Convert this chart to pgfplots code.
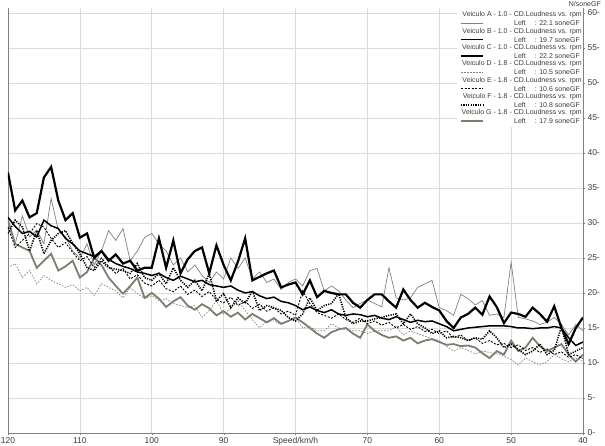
\documentclass[border=0pt]{standalone}
\usepackage{fontspec}
\setmainfont{Liberation Sans}
\usepackage{pgfplots}
\usepackage{pgfplotstable}
\pgfplotsset{compat=1.18}
\pgfplotstableread{
x A B C D E F G
120 30.0 30.8 37.2 23.6 29.4 28.5 30.4
119 27.0 29.5 31.8 24.2 26.5 30.4 27.0
118 31.0 28.5 33.2 22.2 27.5 29.4 26.5
117 28.0 28.8 30.8 23.2 28.5 26.0 26.0
116 29.0 28.0 31.4 21.3 29.9 28.9 23.6
115 27.0 30.4 36.5 22.5 29.4 25.6 24.6
114 33.5 29.6 38.0 21.8 27.8 27.5 25.6
113 29.0 29.2 33.2 21.3 26.5 28.5 23.2
112 28.0 27.8 30.4 20.8 27.2 28.9 23.8
111 26.0 27.0 31.4 21.2 25.8 27.1 24.6
110 25.0 26.0 27.9 20.3 24.6 25.6 22.2
109 27.0 25.6 28.5 20.8 25.2 23.6 23.0
108 24.0 25.2 25.0 19.6 23.6 23.2 25.0
107 26.0 26.0 26.0 21.3 25.0 24.6 24.0
106 28.9 24.8 24.6 20.8 23.8 23.6 22.2
105 27.5 24.2 25.5 20.3 22.8 23.4 21.0
104 29.2 23.8 24.2 19.3 23.5 23.2 19.9
103 24.6 23.5 24.6 20.8 22.0 22.8 21.0
102 26.0 23.0 23.2 19.9 22.6 24.2 22.2
101 27.9 22.8 23.6 19.2 21.4 22.2 19.3
100 28.5 22.5 23.6 19.6 21.0 21.8 20.0
99 27.0 22.8 27.8 18.9 21.8 22.8 19.2
98 26.0 22.2 23.6 19.2 20.6 21.3 18.0
97 24.0 21.8 27.5 18.5 20.2 23.6 18.8
96 25.0 22.4 22.8 18.2 21.0 21.8 19.4
95 23.0 22.0 24.8 17.9 19.8 20.8 18.2
94 24.0 21.6 26.0 18.2 20.4 21.8 17.6
93 22.5 21.8 26.5 16.5 19.5 20.3 18.4
92 21.5 21.2 22.8 17.5 20.2 22.8 17.8
91 23.0 21.0 26.8 18.9 19.0 18.9 16.8
90 22.0 20.8 24.0 17.0 18.6 19.9 17.4
89 25.0 21.0 21.8 17.8 19.4 17.9 16.6
88 23.5 20.4 24.5 18.9 18.2 19.3 17.2
87 25.0 20.0 27.8 17.5 18.8 18.5 16.2
86 22.0 20.2 21.8 16.2 17.8 20.3 17.0
85 23.0 19.6 22.3 15.0 18.4 17.5 16.4
84 21.5 19.2 22.8 16.0 17.4 18.2 15.8
83 22.0 19.4 23.2 16.0 17.9 17.9 16.4
82 20.5 18.8 20.8 15.5 17.0 17.5 15.6
81 21.5 18.6 21.2 16.0 17.4 16.5 16.0
80 22.0 18.2 21.5 16.5 16.8 16.0 16.5
79 21.0 17.6 19.8 15.0 20.3 17.0 15.8
78 23.2 18.0 21.8 15.2 18.5 19.3 15.0
77 23.5 17.5 19.4 14.6 17.2 17.5 14.2
76 20.3 17.2 20.3 14.6 16.8 18.2 13.6
75 21.0 17.6 20.0 15.6 16.4 18.5 14.4
74 20.3 17.0 19.8 15.0 17.0 19.9 14.8
73 19.0 16.8 19.8 14.8 16.2 16.5 15.0
72 17.9 17.0 18.6 14.6 15.8 15.6 14.2
71 18.5 16.9 17.9 14.6 16.4 16.0 13.6
70 19.0 16.6 19.0 14.2 15.6 16.0 15.5
69 18.5 16.8 19.8 14.6 16.0 16.3 14.6
68 18.0 16.4 19.8 14.6 15.4 16.5 14.0
67 23.6 16.2 18.8 14.6 15.8 16.8 13.6
66 19.3 16.6 17.9 15.2 15.0 17.0 13.8
65 19.0 16.2 20.5 14.0 15.5 15.6 13.2
64 19.3 15.8 19.0 14.6 14.8 17.0 13.6
63 20.8 16.1 17.9 14.2 15.2 15.6 12.8
62 21.3 15.9 18.6 13.8 14.5 15.0 13.2
61 21.8 16.0 18.0 13.5 14.8 14.2 13.4
60 17.9 15.6 17.5 13.2 14.2 14.6 13.0
59 17.5 15.2 16.0 12.4 14.6 13.6 12.6
58 16.8 14.6 15.0 11.7 13.6 13.8 12.7
57 19.8 14.8 16.5 12.2 14.0 13.6 12.4
56 19.2 15.0 17.0 11.8 13.2 13.2 12.5
55 18.3 15.1 17.9 11.3 13.6 13.6 12.2
54 18.9 15.2 16.9 11.7 12.8 13.4 11.4
53 16.8 15.3 19.5 11.5 13.2 14.6 10.7
52 17.0 15.3 18.0 11.3 12.6 13.6 11.7
51 16.5 15.3 15.7 11.0 12.8 12.2 11.2
50 24.4 15.2 17.2 10.5 12.2 12.7 13.2
49 16.5 15.0 17.0 9.7 12.6 11.9 11.7
48 16.3 15.0 16.6 10.7 11.8 11.2 12.2
47 16.0 14.9 17.9 10.2 12.2 11.7 13.6
46 15.5 15.0 17.0 9.7 11.5 12.7 12.4
45 15.8 15.0 15.9 10.2 12.0 11.2 11.7
44 16.5 15.2 18.1 11.2 11.2 11.8 12.2
43 15.5 15.0 15.0 10.6 11.6 15.2 12.7
42 14.0 13.6 12.7 10.2 10.8 11.2 11.2
41 15.5 12.5 15.0 10.7 11.2 11.7 10.2
40 14.6 13.0 16.5 10.2 10.6 12.2 11.2
}\data
\definecolor{gline}{RGB}{128,128,128}
\definecolor{gthick}{RGB}{125,125,112}
\definecolor{txt}{RGB}{60,60,60}
\tikzset{
  sA/.style={gline, line width=0.7pt},
  sB/.style={black, line width=1.5pt},
  sC/.style={black, line width=2.2pt},
  sD/.style={gline, line width=0.7pt, dash pattern=on 1.5pt off 1.5pt},
  sE/.style={black, line width=0.9pt, dash pattern=on 2pt off 1.5pt},
  sF/.style={black, line width=1.6pt, dash pattern=on 1.2pt off 1.2pt},
  sG/.style={gthick, line width=1.8pt},
}
\begin{document}
\begin{tikzpicture}[x=1pt,y=1pt]
\useasboundingbox (-8,-12) rectangle (597,433);
\begin{axis}[
  at={(0,0)}, anchor=south west,
  width=575pt, height=425pt, scale only axis,
  xmin=40, xmax=120, x dir=reverse,
  ymin=0, ymax=60.7,
  xtick={40,50,...,120},
  xticklabels={40,50,60,70,Speed/km/h,90,100,110,120},
  ytick={0,5,...,60},
  yticklabel={\pgfmathprintnumber{\tick}-},
  axis x line*=bottom, axis y line*=right,
  axis line style={gray, -},
  grid=major, grid style={gray!28, line width=0.6pt},
  tick style={gray}, tick align=outside, major tick length=2pt,
  tick label style={font=\fontsize{8.5}{9}\selectfont, text=txt},
  /pgf/number format/assume math mode=true,
  xticklabel style={yshift=1pt},
  yticklabel style={xshift=-1pt},
]
\draw[gray] (rel axis cs:0,0) -- (rel axis cs:0,1);
\addplot[sG] table[x=x,y=G]{\data};
\addplot[sD] table[x=x,y=D]{\data};
\addplot[sA] table[x=x,y=A]{\data};
\addplot[sE] table[x=x,y=E]{\data};
\addplot[sF] table[x=x,y=F]{\data};
\addplot[sB] table[x=x,y=B]{\data};
\addplot[sC] table[x=x,y=C]{\data};
\end{axis}
% legend
\fill[white] (449,306) rectangle (574.5,424.5);
\tikzset{lt/.style={anchor=east, inner sep=0pt, font=\fontsize{7}{8}\selectfont, text=txt}}
\node[lt] at (574,418.0) {Veiculo A - 1.0 - CD.Loudness vs. rpm};
\draw[sA] (453,409.8) -- (475,409.8);
\node[lt] at (572,409.8) {Left\hspace{9pt}: 22.1 soneGF};
\node[lt] at (574,401.65) {Veiculo B - 1.0 - CD.Loudness vs. rpm};
\draw[sB] (453,393.45) -- (475,393.45);
\node[lt] at (572,393.45) {Left\hspace{9pt}: 19.7 soneGF};
\node[lt] at (574,385.3) {Veiculo C - 1.0 - CD.Loudness vs. rpm};
\draw[sC] (453,377.1) -- (475,377.1);
\node[lt] at (572,377.1) {Left\hspace{9pt}: 22.2 soneGF};
\node[lt] at (574,368.95) {Veiculo D - 1.8 - CD.Loudness vs. rpm};
\draw[sD] (453,360.75) -- (475,360.75);
\node[lt] at (572,360.75) {Left\hspace{9pt}: 10.5 soneGF};
\node[lt] at (574,352.6) {Veiculo E - 1.8 - CD.Loudness vs. rpm};
\draw[sE] (453,344.4) -- (475,344.4);
\node[lt] at (572,344.4) {Left\hspace{9pt}: 10.6 soneGF};
\node[lt] at (574,336.25) {Veiculo F - 1.8 - CD.Loudness vs. rpm};
\draw[sF] (453,328.05) -- (475,328.05);
\node[lt] at (572,328.05) {Left\hspace{9pt}: 10.8 soneGF};
\node[lt] at (574,319.9) {Veiculo G - 1.8 - CD.Loudness vs. rpm};
\draw[sG] (453,311.7) -- (475,311.7);
\node[lt] at (572,311.7) {Left\hspace{9pt}: 17.9 soneGF};
\node[anchor=east, inner sep=0pt, font=\fontsize{7}{8}\selectfont, text=txt] at (593,428.5) {N/soneGF};
\end{tikzpicture}
\end{document}
